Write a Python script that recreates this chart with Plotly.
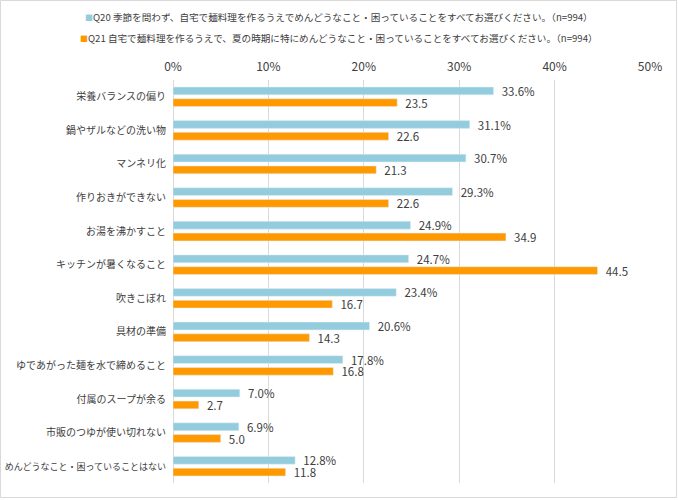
import plotly.graph_objects as go

categories = [
    "栄養バランスの偏り",
    "鍋やザルなどの洗い物",
    "マンネリ化",
    "作りおきができない",
    "お湯を沸かすこと",
    "キッチンが暑くなること",
    "吹きこぼれ",
    "具材の準備",
    "ゆであがった麺を水で締めること",
    "付属のスープが余る",
    "市販のつゆが使い切れない",
    "めんどうなこと・困っていることはない",
]
q20_values = [33.6, 31.1, 30.7, 29.3, 24.9, 24.7, 23.4, 20.6, 17.8, 7.0, 6.9, 12.8]
q21_values = [23.5, 22.6, 21.3, 22.6, 34.9, 44.5, 16.7, 14.3, 16.8, 2.7, 5.0, 11.8]
q20_name = "Q20 季節を問わず、自宅で麺料理を作るうえでめんどうなこと・困っていることをすべてお選びください。（n=994）"
q21_name = "Q21 自宅で麺料理を作るうえで、夏の時期に特にめんどうなこと・困っていることをすべてお選びください。（n=994）"
x_ticks = [0, 10, 20, 30, 40, 50]
x_ticklabels = ["0%", "10%", "20%", "30%", "40%", "50%"]

FONT = "Noto Sans CJK JP"
TXT = "#404040"
C20, C21 = "#93CDDD", "#FF9900"
PAD = "\u00a0\u00a0"

ticktext = [
    (f'<span style="font-size:9px">{c}</span>' if len(c) > 16 else c) for c in categories
]

fig = go.Figure()
fig.add_trace(go.Bar(
    y=categories, x=q20_values, orientation="h", name=q20_name,
    marker=dict(color=C20),
    texttemplate=PAD + "%{x:.1f}%", textposition="outside", constraintext="none",
    textfont=dict(family=FONT, size=11.5, color=TXT),
    cliponaxis=False, showlegend=False,
))
fig.add_trace(go.Bar(
    y=categories, x=q21_values, orientation="h", name=q21_name,
    marker=dict(color=C21),
    texttemplate=PAD + "%{x:.1f}", textposition="outside", constraintext="none",
    textfont=dict(family=FONT, size=11.5, color=TXT),
    cliponaxis=False, showlegend=False,
))

W, H = 678, 500
ml, mr, mt, mb = 173, 28, 80, 17
pw, ph = W - ml - mr, H - mt - mb

legend_ann = []
for i, (name, col) in enumerate([(q20_name, C20), (q21_name, C21)]):
    legend_ann.append(dict(
        text=f'<span style="color:{col};font-size:8px">■</span>{name}',
        xref="paper", yref="paper",
        x=(W / 2 - ml) / pw, xanchor="center",
        y=1 + (mt - 17 - 21 * i) / ph, yanchor="middle",
        showarrow=False, font=dict(family=FONT, size=9.6, color=TXT),
    ))

fig.update_layout(
    width=W, height=H,
    margin=dict(l=ml, r=mr, t=mt, b=mb, autoexpand=False),
    paper_bgcolor="white", plot_bgcolor="white",
    barmode="group", bargap=0.3, bargroupgap=0.34,
    font=dict(family=FONT, size=12, color=TXT),
    showlegend=False,
    annotations=legend_ann,
    xaxis=dict(
        side="top", range=[0, 50], tickvals=x_ticks, ticktext=x_ticklabels,
        showgrid=True, gridcolor="#D9D9D9", gridwidth=1,
        zeroline=True, zerolinecolor="#D9D9D9", zerolinewidth=1,
        showline=False, ticks="", tickfont=dict(family=FONT, size=12, color=TXT),
        ticklabelstandoff=6, automargin=False,
    ),
    yaxis=dict(
        autorange="reversed", tickvals=categories, ticktext=ticktext,
        showgrid=False, zeroline=False, showline=False, ticks="",
        tickfont=dict(family=FONT, size=10, color=TXT),
        ticklabelstandoff=6, automargin=False,
    ),
    shapes=[dict(
        type="rect", xref="paper", yref="paper",
        x0=(-ml + 0.5) / pw, x1=(pw + mr - 1.5) / pw,
        y0=(-mb + 2.5) / ph, y1=(ph + mt - 0.5) / ph,
        line=dict(color="#D9D9D9", width=1), fillcolor="rgba(0,0,0,0)",
        layer="below",
    )],
)

fig.write_html("out.html")
